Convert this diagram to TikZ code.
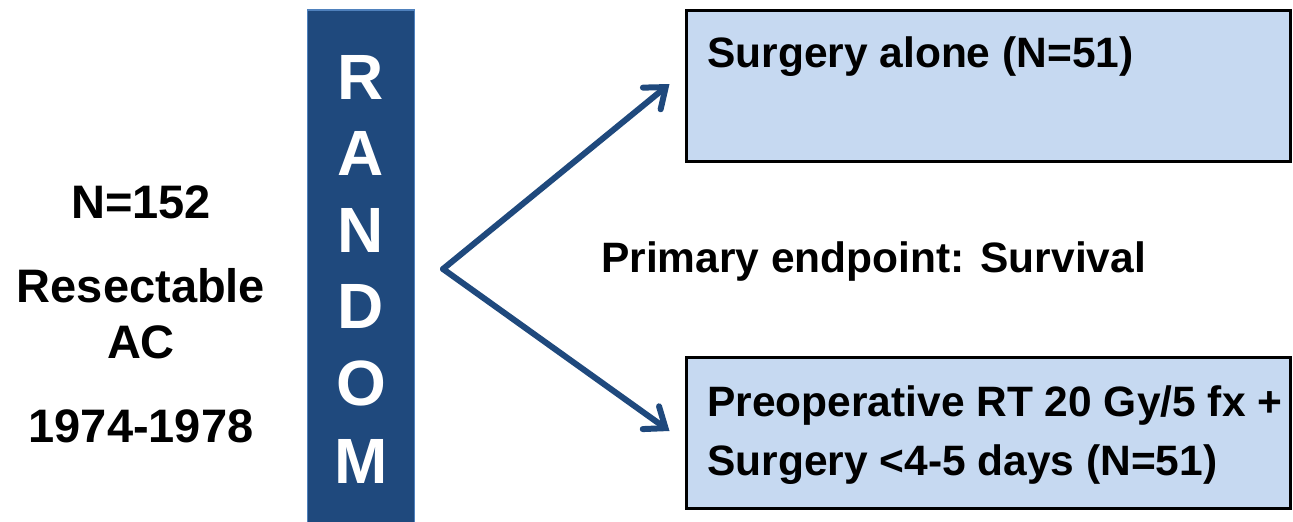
\documentclass[tikz,border=0pt]{standalone}
\usepackage{fontspec}
\setmainfont{Liberation Sans}
\usetikzlibrary{arrows.meta}
\definecolor{barblue}{HTML}{1F497D}
\definecolor{baredge}{HTML}{4F81BD}
\definecolor{armfill}{HTML}{C6D9F1}
\tikzset{
  bigtext/.style={font=\fontsize{47}{56}\bfseries\selectfont, anchor=base, inner sep=0pt},
  armtext/.style={font=\fontsize{42.5}{51}\bfseries\selectfont, anchor=base west, inner sep=0pt},
  letter/.style={font=\fontsize{64}{76}\bfseries\selectfont, text=white, anchor=base, inner sep=0pt},
  randbar/.style={draw=baredge, line width=1.5pt, fill=barblue, minimum width=107pt, minimum height=518pt, inner sep=0pt},
  armbox/.style={draw=black, line width=3pt, fill=armfill, minimum width=604pt, minimum height=151pt, inner sep=0pt},
  arm/.style={draw=barblue, line width=6pt, line cap=round, -{Straight Barb[length=18pt, width=28pt, line cap=round]}},
}
\begin{document}
\begin{tikzpicture}[x=1pt, y=-1pt]
\useasboundingbox (0,0) rectangle (1293,522);

% population
\node[bigtext] (n) at (141,218) {N=152};
\node[bigtext] (res) at (141,302) {Resectable};
\node[bigtext] (ac) at (141,358) {AC};
\node[bigtext] (yrs) at (141,442) {1974-1978};

% randomisation bar
\node[randbar] (random) at (361,269) {};
\node[letter] (l1) at (361,99) {R};
\node[letter] (l2) at (361,175) {A};
\node[letter] (l3) at (361,252) {N};
\node[letter] (l4) at (361,328) {D};
\node[letter] (l5) at (361,405) {O};
\node[letter] (l6) at (361,483) {M};

% treatment arms
\node[armbox] (arm1) at (988,86) {};
\node[armbox] (arm2) at (988,433) {};
\node[armtext] (arm1t) at (707,67) {Surgery alone (N=51)};
\node[armtext] (arm2a) at (707,416) {Preoperative RT 20 Gy/5 fx +};
\node[armtext] (arm2b) at (707,475) {Surgery <4-5 days (N=51)};

\node[armtext] (endpt) at (601,272) {Primary endpoint: Survival};

% branching arrows
\coordinate (fork) at (443,269);
\draw[arm] (fork) -- ([xshift=-15pt,yshift=2pt]arm1.west);
\draw[arm] (fork) -- ([xshift=-15pt,yshift=2pt]arm2.west);
\end{tikzpicture}
\end{document}
